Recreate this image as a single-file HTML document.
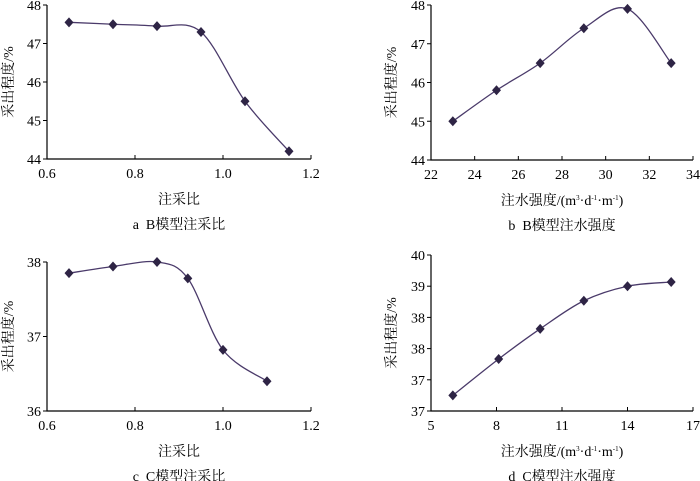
<!DOCTYPE html>
<html><head><meta charset="utf-8"><style>
html,body{margin:0;padding:0;background:#fff;}
svg{display:block;font-family:"Liberation Serif","Noto Serif CJK SC",serif;}
</style></head><body>
<svg id="s" width="700" height="481" viewBox="0 0 700 481"></svg>
<script>
const aX=[0.65,0.75,0.85,0.95,1.05,1.15];
const aY=[47.55,47.5,47.45,47.3,45.5,44.2];
const bX=[23,25,27,29,31,33];
const bY=[45,45.8,46.5,47.4,47.9,46.5];
const cX=[0.65,0.75,0.85,0.92,1.0,1.1];
const cY=[37.85,37.94,38.0,37.78,36.82,36.4];
const dX=[6,8.1,10,12,14,16];
const dY=[37.3,38.0,38.58,39.12,39.4,39.48];
const aXt=["0.6","0.8","1.0","1.2"], aYt=["44","45","46","47","48"];
const bXt=["22","24","26","28","30","32","34"], bYt=["44","45","46","47","48"];
const cXt=["0.6","0.8","1.0","1.2"], cYt=["36","37","38"];
const dXt=["5","8","11","14","17"], dYt=["37","37","38","38","39","40"];
const NS="http://www.w3.org/2000/svg";
const svg=document.getElementById('s');
function mk(t,at,p){const e=document.createElementNS(NS,t);for(const k in at)e.setAttribute(k,at[k]);(p||svg).appendChild(e);return e;}
function panel(o){
 const g=mk('g',{});
 
 
 const sx=v=>o.x0+(v-o.xmin)/(o.xmax-o.xmin)*(o.x1-o.x0);
 const sy=v=>o.y1-(v-o.ymin)/(o.ymax-o.ymin)*(o.y1-o.y0);
 const ax=mk('path',{d:`M${o.x0},${o.y0}V${o.y1}H${o.x1}`,fill:'none',stroke:'#000','stroke-width':1.2},g);
 
 
 o.xt.forEach((l,i)=>{const x=o.x0+i*(o.x1-o.x0)/(o.xt.length-1);
  mk('line',{x1:x,x2:x,y1:o.y1,y2:o.y1-4,stroke:'#000'},g);
  const t=mk('text',{x:x,y:o.y1+19,'text-anchor':'middle','font-size':14},g);t.textContent=l;
  
  });
 o.yt.forEach((l,i)=>{const y=o.y1-i*(o.y1-o.y0)/(o.yt.length-1);
  mk('line',{x1:o.x0,x2:o.x0-4,y1:y,y2:y,stroke:'#000'},g);
  const t=mk('text',{x:o.x0-6,y:y+5,'text-anchor':'end','font-size':14},g);t.textContent=l;
  
  });
 const P=o.X.map((v,i)=>[sx(v),sy(o.Y[i])]);
 let d=`M${P[0][0]},${P[0][1]}`;
 for(let i=0;i<P.length-1;i++){const p0=P[i-1]||P[i],p1=P[i],p2=P[i+1],p3=P[i+2]||P[i+1];
  const c1=[p1[0]+(p2[0]-p0[0])/6,p1[1]+(p2[1]-p0[1])/6],c2=[p2[0]-(p3[0]-p1[0])/6,p2[1]-(p3[1]-p1[1])/6];
  d+=`C${c1[0]},${c1[1]} ${c2[0]},${c2[1]} ${p2[0]},${p2[1]}`;}
 const ln=mk('path',{d:d,fill:'none',stroke:'#4a3a6a','stroke-width':1.3},g);
 
 
 P.forEach(p=>{const m=mk('path',{d:`M${p[0]},${p[1]-5}L${p[0]+4.5},${p[1]}L${p[0]},${p[1]+5}L${p[0]-4.5},${p[1]}Z`,fill:'#2e2445'},g);
  
  });
 const yt=mk('text',{transform:`translate(${o.ytx},${(o.y0+o.y1)/2}) rotate(-90)`,'text-anchor':'middle','font-size':14},g);yt.textContent='采出程度/%';
 
 
 const xt=mk('text',{x:(o.x0+o.x1)/2,y:o.y1+45,'text-anchor':'middle','font-size':14},g);xt.innerHTML=o.xtitle;
 
 
 const cp=mk('text',{x:(o.x0+o.x1)/2,y:o.y1+70,'text-anchor':'middle','font-size':14,'xml:space':'preserve'},g);cp.textContent=o.cap;
 
 
}
const unit='注水强度/(m<tspan font-size="7" dy="-5">3</tspan><tspan dy="5">·d</tspan><tspan font-size="7" dy="-5">-1</tspan><tspan dy="5">·m</tspan><tspan font-size="7" dy="-5">-1</tspan><tspan dy="5">)</tspan>';
panel({name:'panel-a',X:aX,Y:aY,xt:aXt,yt:aYt,x0:47,x1:311,y0:5,y1:159,xmin:0.6,xmax:1.2,ymin:44,ymax:48,ytx:13,xtitle:'注采比',cap:'a\u00a0\u00a0B模型注采比'});
panel({name:'panel-b',X:bX,Y:bY,xt:bXt,yt:bYt,x0:431,x1:693,y0:5,y1:160,xmin:22,xmax:34,ymin:44,ymax:48,ytx:396,xtitle:unit,cap:'b\u00a0\u00a0B模型注水强度'});
panel({name:'panel-c',X:cX,Y:cY,xt:cXt,yt:cYt,x0:47,x1:311,y0:262,y1:411,xmin:0.6,xmax:1.2,ymin:36,ymax:38,ytx:13,xtitle:'注采比',cap:'c\u00a0\u00a0C模型注采比'});
panel({name:'panel-d',X:dX,Y:dY,xt:dXt,yt:dYt,x0:431,x1:693,y0:255,y1:411,xmin:5,xmax:17,ymin:37,ymax:40,ytx:396,xtitle:unit,cap:'d\u00a0\u00a0C模型注水强度'});
</script>
</body></html>
